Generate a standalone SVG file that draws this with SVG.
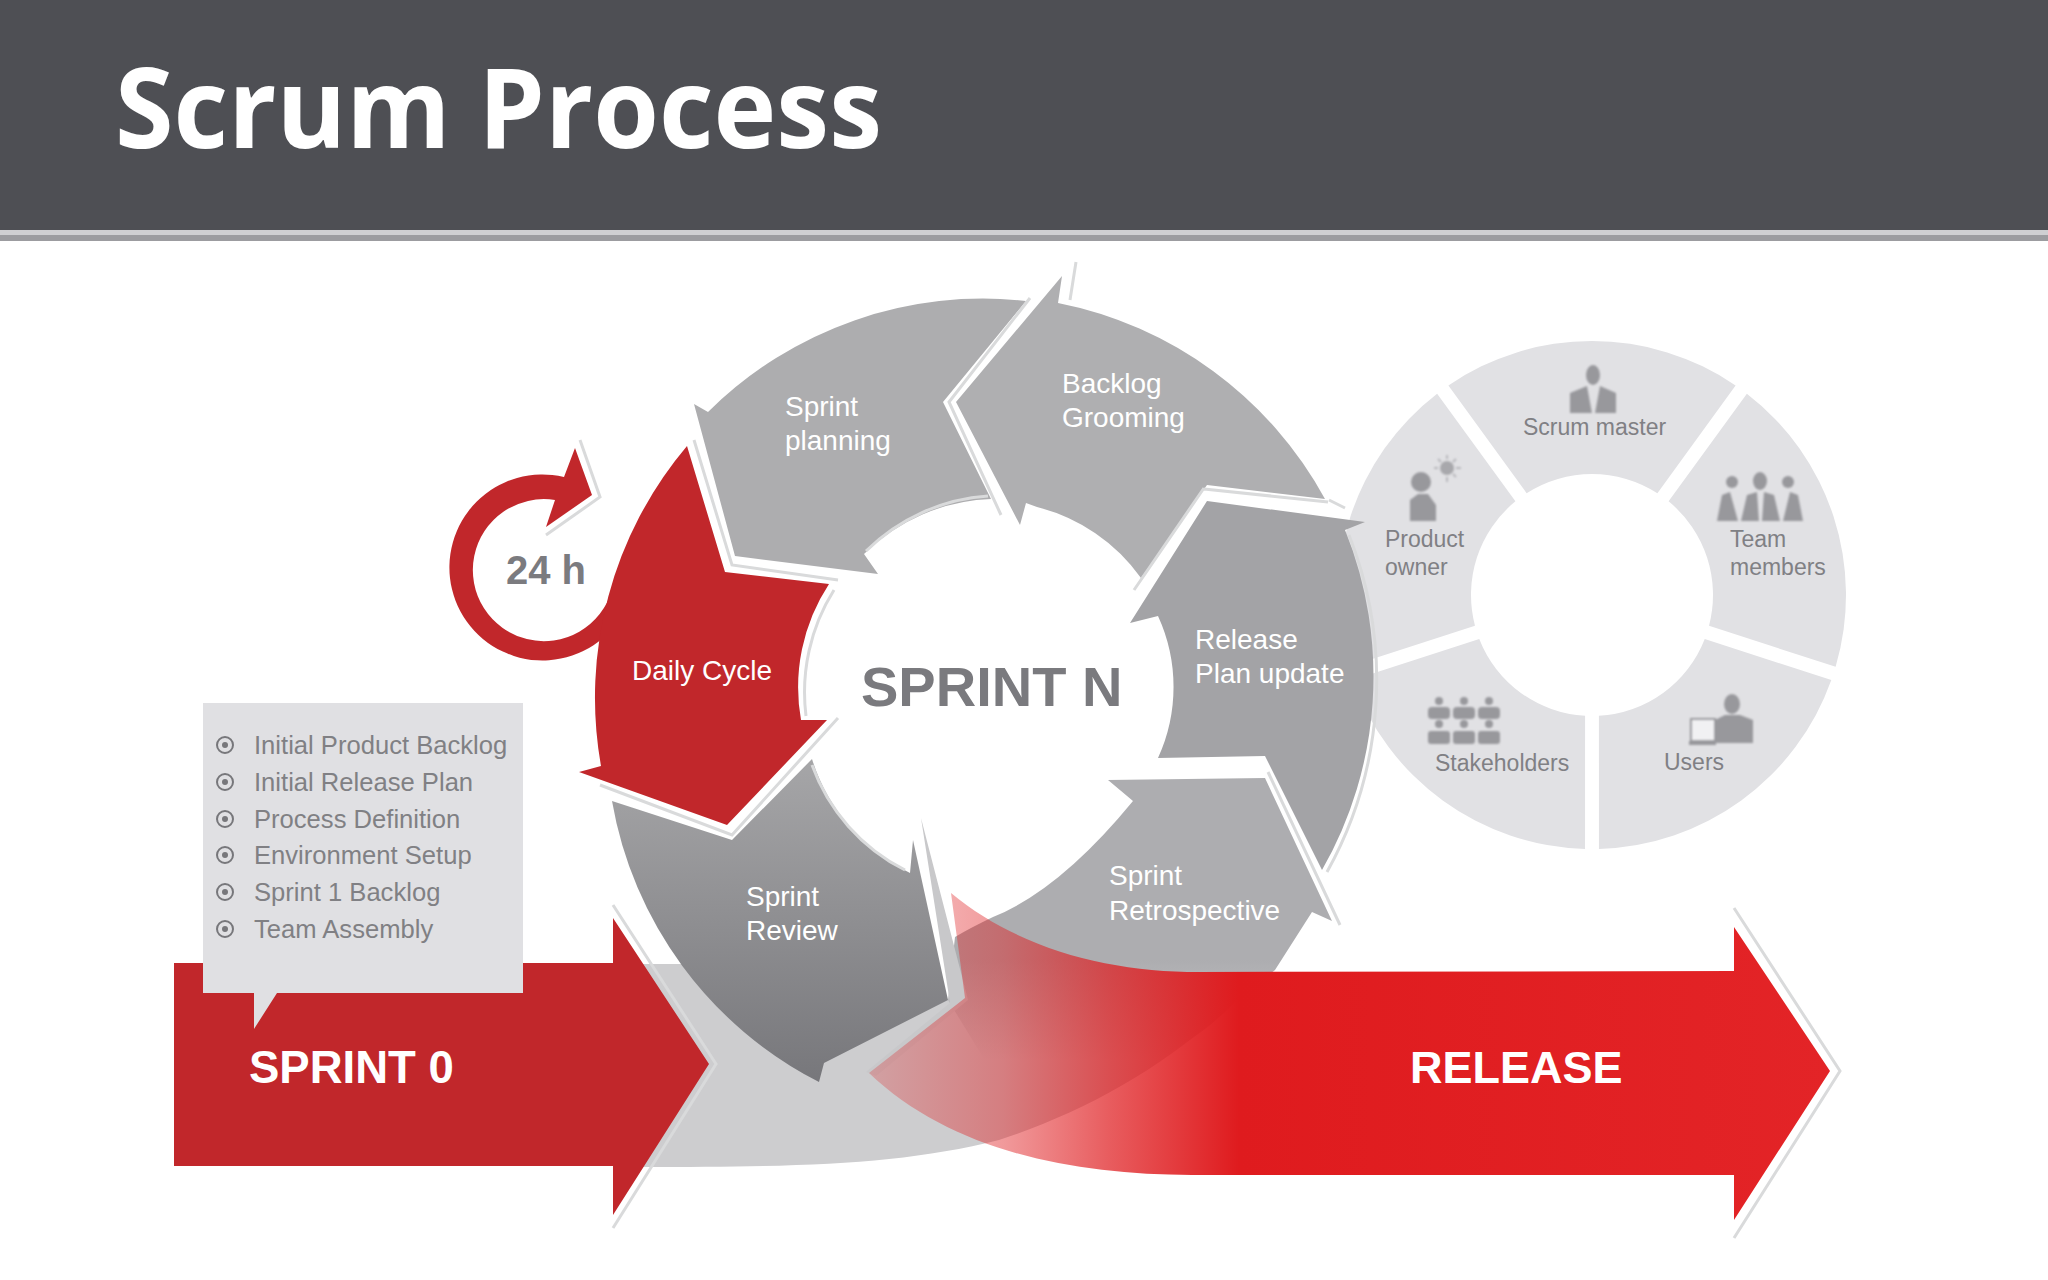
<svg xmlns="http://www.w3.org/2000/svg" width="2048" height="1280" viewBox="0 0 2048 1280">
<style>
text{font-family:"Liberation Sans",Arial,sans-serif}
.w{fill:#fff;font-size:28px}
.g{fill:#808084;font-size:23px}
.b{fill:#808084;font-size:25.6px}
.seg{fill:#e1e1e4}
.ic{fill:#98989c}
.st{fill:none;stroke:#d9dadb;stroke-width:3}
.dot{fill:none;stroke:#77777b;stroke-width:2}
.dc{fill:#77777b}
</style>
<defs>
<filter id="soft" x="-10%" y="-10%" width="120%" height="120%"><feGaussianBlur stdDeviation="0.8"/></filter>
<linearGradient id="rv" x1="0" y1="0" x2="0" y2="1"><stop offset="0" stop-color="#a6a6a8"/><stop offset="1" stop-color="#77777b"/></linearGradient>
<linearGradient id="rt" gradientUnits="userSpaceOnUse" x1="0" y1="960" x2="0" y2="1060"><stop offset="0" stop-color="#adadb0"/><stop offset="1" stop-color="#cdcdcf"/></linearGradient>
<linearGradient id="rl" gradientUnits="userSpaceOnUse" x1="869" y1="0" x2="1830" y2="0"><stop offset="0" stop-color="#df1d20" stop-opacity=".25"/><stop offset=".14" stop-color="#df1d20" stop-opacity=".45"/><stop offset=".25" stop-color="#df1d20" stop-opacity=".72"/><stop offset=".385" stop-color="#df1b1e"/><stop offset="1" stop-color="#e32427"/></linearGradient>
<path id="segp" d="M1446.4,384.5A254,254 0 0 1 1733.6,384.5L1655.4,492.2A121,121 0 0 0 1524.6,492.2Z"/>
</defs>
<rect width="2048" height="1280" fill="#fff"/>
<g id="header">
<rect width="2048" height="230" fill="#4e4f54"/>
<rect y="230" width="2048" height="5" fill="#cfcfd2"/>
<rect y="235" width="2048" height="6" fill="#9c9ca0"/>
<text x="115" y="148" font-size="112" font-weight="700" fill="#fff" textLength="767" lengthAdjust="spacingAndGlyphs" style="font-family:'Open Sans',sans-serif">Scrum Process</text>
</g>
<g id="team-wheel">
<g id="scrum-master"><use href="#segp" class="seg" transform="translate(2 1)"/>
<g filter="url(#soft)"><ellipse class="ic" cx="1593" cy="375" rx="7" ry="10"/><path class="ic" d="M1570,413V393L1587,386L1592,413H1595L1600,386L1616,393V413Z"/></g>
<text class="g" x="1523" y="435">Scrum master</text></g>
<g id="team-members"><use href="#segp" class="seg" transform="translate(2 1) rotate(72 1590 594)"/>
<g filter="url(#soft)"><circle class="ic" cx="1732" cy="482" r="6"/><ellipse class="ic" cx="1760" cy="481" rx="7" ry="9"/><circle class="ic" cx="1788" cy="482" r="6"/>
<path class="ic" d="M1717,521L1722,495L1730,492L1738,521ZM1741,521L1747,495L1757,492L1759,521H1762L1764,492L1774,495L1780,521ZM1783,521L1790,492L1798,495L1803,521Z"/></g>
<text class="g" x="1730" y="547">Team</text><text class="g" x="1730" y="575">members</text></g>
<g id="users"><use href="#segp" class="seg" transform="translate(2 1) rotate(144 1590 594)"/>
<g filter="url(#soft)"><ellipse class="ic" cx="1732" cy="704" rx="8" ry="10"/><path class="ic" d="M1715,743V720L1725,715H1740L1753,720V743Z"/>
<path d="M1691,719H1715V741H1691Z" fill="#f1f1f3" stroke="#98989c" stroke-width="2"/><path class="ic" d="M1689,741H1716V745H1689Z"/></g>
<text class="g" x="1664" y="770">Users</text></g>
<g id="stakeholders"><use href="#segp" class="seg" transform="translate(2 1) rotate(216 1590 594)"/>
<g class="ic" filter="url(#soft)"><circle cx="1439" cy="701" r="4"/><circle cx="1464" cy="701" r="4"/><circle cx="1489" cy="701" r="4"/><circle cx="1439" cy="724" r="4"/><circle cx="1464" cy="724" r="4"/><circle cx="1489" cy="724" r="4"/>
<rect x="1428" y="707" width="22" height="12" rx="4"/><rect x="1453" y="707" width="22" height="12" rx="4"/><rect x="1478" y="707" width="22" height="12" rx="4"/><rect x="1428" y="731" width="22" height="13" rx="3"/><rect x="1453" y="731" width="22" height="13" rx="3"/><rect x="1478" y="731" width="22" height="13" rx="3"/></g>
<text class="g" x="1435" y="771">Stakeholders</text></g>
<g id="product-owner"><use href="#segp" class="seg" transform="translate(2 1) rotate(288 1590 594)"/>
<g filter="url(#soft)"><circle class="ic" cx="1421" cy="482" r="10"/><path class="ic" d="M1410,521V500L1418,494H1428L1436,505V521Z"/>
<circle cx="1447" cy="468" r="7" fill="#a8a8ac"/><path d="M1447,455V459M1447,477V482M1434,468H1438M1456,468H1461M1438,459L1441,462M1453,474L1456,477M1456,459L1453,462" stroke="#b8b8bc" stroke-width="2" fill="none"/></g>
<text class="g" x="1385" y="547">Product</text><text class="g" x="1385" y="575">owner</text></g>
</g>
<path id="band" fill="#cdcdcf" d="M640,964L770,964L948,1000L1230,960L1250,985C1180,1060 1090,1110 999,1140C900,1165 800,1167 640,1167Z"/>
<g id="sprint-planning">
<path fill="#adadaf" d="M694,404L708,412A390,390 0 0 1 1026,301L943,402L991,499A190,190 0 0 0 864,554L878,574L735,556Z"/>
<path class="st" d="M866,551A192,192 0 0 1 988,496"/>
<text class="w" x="785" y="416">Sprint</text><text class="w" x="785" y="450">planning</text></g>
<g id="backlog-grooming">
<path fill="#afafb1" d="M1062,276L1058,303A390,390 0 0 1 1325,499L1207,485L1141,578A182,182 0 0 0 1037,507L1026,503L1020,525L956,402Z"/>
<path class="st" d="M1076,262L1070,300M1030,298L949,402L1001,515M1329,500L1345,508"/>
<text class="w" x="1062" y="393">Backlog</text><text class="w" x="1062" y="427">Grooming</text></g>
<g id="release-plan">
<path fill="#a3a3a6" d="M1365,522L1207,501L1130,623L1158,616A170,170 0 0 1 1158,758L1265,756L1322,870A390,390 0 0 0 1345,530Z"/>
<path class="st" d="M1204,488L1134,590M1204,489L1328,502M1349,535A395,395 0 0 1 1327,872"/>
<text class="w" x="1195" y="649">Release</text><text class="w" x="1195" y="683">Plan update</text></g>
<g id="sprint-retrospective">
<path fill="url(#rt)" d="M1108,780L1265,778L1332,921L1312,912L1275,970L1237,1000C1180,1060 1090,1100 1000,1085L948,1000L955,937Q970,928 993,917Q1060,890 1133,801Z"/>
<path class="st" d="M1268,772L1340,925"/>
<text class="w" x="1109" y="885">Sprint</text><text class="w" x="1109" y="920">Retrospective</text></g>
<g id="sprint-review">
<path fill="url(#rv)" d="M612,801L732,840L812,759A190,190 0 0 0 910,873L913,840L948,1000L824,1063L819,1082A390,390 0 0 1 612,801Z"/>
<path fill="#c8c8ca" d="M921,818L968,1000L876,1076L866,1072L950,1003Z"/>
<path class="st" d="M812,765A190,190 0 0 0 905,870"/>
<text class="w" x="746" y="906">Sprint</text><text class="w" x="746" y="940">Review</text></g>
<g id="cycle-24h">
<path fill="#c1272b" d="M603,638A93,93 0 1 1 564,477L575,448L592,495L546,527L555,500A71,71 0 1 0 612,590Z"/>
<path class="st" d="M580,440L600,497L546,535"/>
<text x="506" y="584" font-size="40" font-weight="700" fill="#7b7b7f">24 h</text></g>
<g id="daily-cycle">
<path fill="#c1272b" d="M687,446L725,572L829,584A188,188 0 0 0 801,720L827,720L727,825L579,772L601,766A390,390 0 0 1 687,446Z"/>
<path class="st" d="M694,440L732,565L838,580M838,718L732,835L600,785M834,590A192,192 0 0 0 806,716"/>
<text class="w" x="632" y="680">Daily Cycle</text></g>
<text x="861" y="706" font-size="56" font-weight="700" fill="#7a7a7e">SPRINT N</text>
<g id="sprint-0">
<path fill="#c1272b" d="M174,963H613V918L709,1064L613,1215V1166H174Z"/>
<path class="st" d="M613,905L716,1064L613,1228"/>
</g>
<g id="backlog-note">
<path fill="#e0e0e3" d="M203,703H523V993H277L254,1029V993H203Z"/>
<g class="b"><text x="254" y="754">Initial Product Backlog</text><text x="254" y="791">Initial Release Plan</text><text x="254" y="828">Process Definition</text><text x="254" y="864">Environment Setup</text><text x="254" y="901">Sprint 1 Backlog</text><text x="254" y="938">Team Assembly</text></g>
<circle class="dot" cx="225" cy="745" r="8"/><circle class="dc" cx="225" cy="745" r="3"/>
<circle class="dot" cx="225" cy="782" r="8"/><circle class="dc" cx="225" cy="782" r="3"/>
<circle class="dot" cx="225" cy="819" r="8"/><circle class="dc" cx="225" cy="819" r="3"/>
<circle class="dot" cx="225" cy="855" r="8"/><circle class="dc" cx="225" cy="855" r="3"/>
<circle class="dot" cx="225" cy="892" r="8"/><circle class="dc" cx="225" cy="892" r="3"/>
<circle class="dot" cx="225" cy="929" r="8"/><circle class="dc" cx="225" cy="929" r="3"/>
</g>
<text x="249" y="1083" font-size="45.5" font-weight="700" fill="#fff">SPRINT 0</text>
<g id="release">
<path class="st" d="M1734,908L1840,1071L1734,1238"/>
<path fill="url(#rl)" d="M951,893C1020,950 1110,972 1199,972L1734,971V927L1830,1071L1734,1220V1175H1192C1070,1175 950,1150 869,1073L965,998Z"/>
<text x="1410" y="1083" font-size="45" font-weight="700" fill="#fff">RELEASE</text></g>
</svg>
